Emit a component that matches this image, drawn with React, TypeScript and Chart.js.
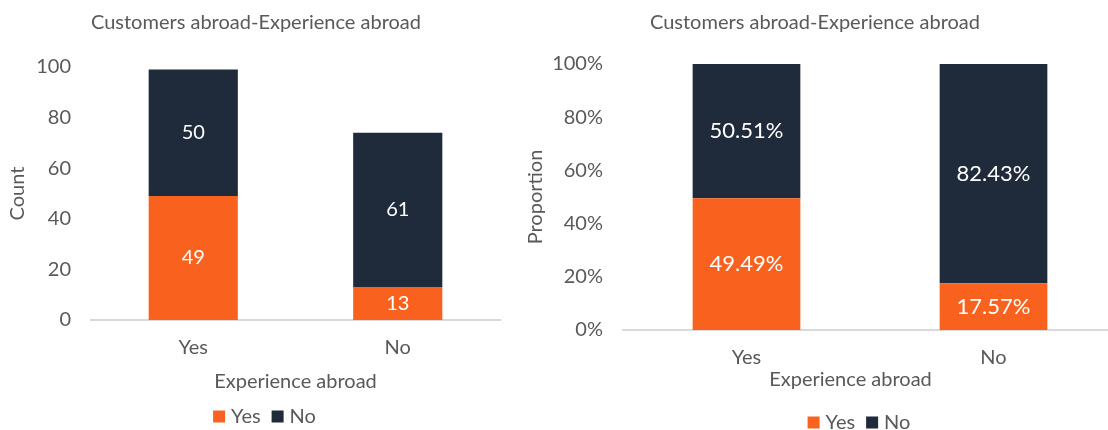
import React, { useEffect, useRef } from "react";
import { Chart, registerables } from "chart.js";

Chart.register(...registerables);

// ---- data ----
const categories = ["Yes", "No"];
const seriesNames = ["Yes", "No"];
const countYes = [49, 13];
const countNo = [50, 61];
const propYes = [49.49, 17.57];
const propNo = [50.51, 82.43];
const countTicks = [0, 20, 40, 60, 80, 100];
const propTicks = [0, 20, 40, 60, 80, 100];
const chartTitle = "Customers abroad-Experience abroad";
const xAxisTitle = "Experience abroad";
const leftYTitle = "Count";
const rightYTitle = "Proportion";

const ORANGE = "#F9621E";
const NAVY = "#1F2A3B";
const GREY = "#595959";
const AXIS = "#D9D9D9";
const FONT = "Lato";
const FS = 20;

const barLabels = {
  id: "barLabels",
  afterDatasetsDraw(chart: any, _args: any, opts: any) {
    const ctx = chart.ctx;
    ctx.save();
    ctx.font = `${opts.size}px ${FONT}`;
    ctx.fillStyle = opts.color;
    ctx.textAlign = "center";
    ctx.textBaseline = "middle";
    chart.data.datasets.forEach((ds: any, di: number) => {
      const meta = chart.getDatasetMeta(di);
      meta.data.forEach((el: any, i: number) => {
        const { x, y, base } = el.getProps(["x", "y", "base"], true);
        const v = ds.data[i] as number;
        ctx.fillText(v.toFixed(opts.decimals) + opts.suffix, x, (y + base) / 2);
      });
    });
    ctx.restore();
  },
};

const fixedTexts = {
  id: "fixedTexts",
  afterDraw(chart: any, _args: any, opts: any) {
    const ctx = chart.ctx;
    ctx.save();
    ctx.font = `${opts.size}px ${FONT}`;
    ctx.fillStyle = opts.color;
    ctx.textAlign = "center";
    ctx.textBaseline = "middle";
    (opts.items || []).forEach((it: any) => ctx.fillText(it.text, it.x, it.y));
    ctx.restore();
  },
};

const bottomLegend = {
  id: "bottomLegend",
  afterDraw(chart: any, _args: any, opts: any) {
    const ctx = chart.ctx;
    ctx.save();
    ctx.font = `${opts.size}px ${FONT}`;
    ctx.textBaseline = "middle";
    ctx.textAlign = "left";
    const items = chart.data.datasets.map((ds: any) => ({
      text: ds.label as string,
      color: ds.backgroundColor as string,
      w: ctx.measureText(ds.label).width,
    }));
    const total =
      items.reduce((s: number, it: any) => s + opts.box + opts.gap + it.w, 0) + opts.itemGap * (items.length - 1);
    let x = opts.cx - total / 2;
    items.forEach((it: any) => {
      ctx.fillStyle = it.color;
      ctx.fillRect(x, opts.cy - opts.box / 2, opts.box, opts.box);
      ctx.fillStyle = opts.color;
      ctx.fillText(it.text, x + opts.box + opts.gap, opts.cy);
      x += opts.box + opts.gap + it.w + opts.itemGap;
    });
    ctx.restore();
  },
};

type P = {
  yes: number[];
  no: number[];
  ticks: number[];
  suffix: string;
  yTitle: string;
  yTitlePad: number;
  yAxisWidth: number;
  xAxisHeight: number;
  padTop: number;
  padRight: number;
  labelSize: number;
  decimals: number;
  titleX: number;
  xTitleX: number;
  xTitleY: number;
  legendX: number;
  legendY: number;
};

function buildConfig(p: P): any {
  const font = { family: FONT, size: FS };
  return {
    type: "bar",
    data: {
      labels: categories,
      datasets: [
        { label: seriesNames[0], data: p.yes, backgroundColor: ORANGE, barPercentage: 0.436, categoryPercentage: 1 },
        { label: seriesNames[1], data: p.no, backgroundColor: NAVY, barPercentage: 0.436, categoryPercentage: 1 },
      ],
    },
    options: {
      responsive: false,
      animation: false,
      layout: { padding: { top: p.padTop, right: p.padRight, bottom: 0, left: 0 } },
      scales: {
        x: {
          stacked: true,
          grid: { display: false, drawTicks: false },
          border: { display: true, color: AXIS, width: 2 },
          ticks: { color: GREY, font, padding: 16 },
          afterFit: (s: any) => {
            s.height = p.xAxisHeight;
          },
        },
        y: {
          stacked: true,
          min: 0,
          max: 100,
          grid: { display: false, drawTicks: false },
          border: { display: false },
          afterBuildTicks: (s: any) => {
            s.ticks = p.ticks.map((v) => ({ value: v }));
          },
          ticks: { color: GREY, font, padding: 20, callback: (v: any) => v + p.suffix },
          title: { display: true, text: p.yTitle, color: GREY, font, padding: { top: p.yTitlePad, bottom: 0 } },
          afterFit: (s: any) => {
            s.width = p.yAxisWidth;
          },
        },
      },
      plugins: {
        title: { display: false },
        tooltip: { enabled: false },
        legend: { display: false },
        barLabels: { size: p.labelSize, color: "#FFFFFF", decimals: p.decimals, suffix: p.suffix },
        fixedTexts: {
          size: FS,
          color: GREY,
          items: [
            { text: chartTitle, x: p.titleX, y: 23 },
            { text: xAxisTitle, x: p.xTitleX, y: p.xTitleY },
          ],
        },
        bottomLegend: { size: FS, color: GREY, box: 12, gap: 6, itemGap: 11, cx: p.legendX, cy: p.legendY },
      },
    },
    plugins: [barLabels, fixedTexts, bottomLegend],
  };
}

export default function App() {
  const leftRef = useRef<HTMLCanvasElement>(null);
  const rightRef = useRef<HTMLCanvasElement>(null);

  useEffect(() => {
    const left = new Chart(
      leftRef.current!,
      buildConfig({
        yes: countYes,
        no: countNo,
        ticks: countTicks,
        suffix: "",
        yTitle: leftYTitle,
        yTitlePad: 6,
        yAxisWidth: 91,
        xAxisHeight: 110,
        padTop: 67,
        padRight: 20,
        labelSize: 20,
        decimals: 0,
        titleX: 256,
        xTitleX: 295.5,
        xTitleY: 382,
        legendX: 264.5,
        legendY: 416.5,
      })
    );
    const right = new Chart(
      rightRef.current!,
      buildConfig({
        yes: propYes,
        no: propNo,
        ticks: propTicks,
        suffix: "%",
        yTitle: rightYTitle,
        yTitlePad: 18.7,
        yAxisWidth: 118,
        xAxisHeight: 100,
        padTop: 64,
        padRight: 0,
        labelSize: 22,
        decimals: 2,
        titleX: 310,
        xTitleX: 345.5,
        xTitleY: 380,
        legendX: 354,
        legendY: 422.5,
      })
    );
    return () => {
      left.destroy();
      right.destroy();
    };
  }, []);

  return (
    <div
      style={{
        position: "fixed",
        left: 0,
        top: 0,
        width: 1108,
        height: 430,
        overflow: "hidden",
        background: "#FFFFFF",
      }}
    >
      <canvas ref={leftRef} width={520} height={430} style={{ position: "absolute", left: 0, top: 0 }} />
      <canvas ref={rightRef} width={612} height={430} style={{ position: "absolute", left: 505, top: 0 }} />
    </div>
  );
}
